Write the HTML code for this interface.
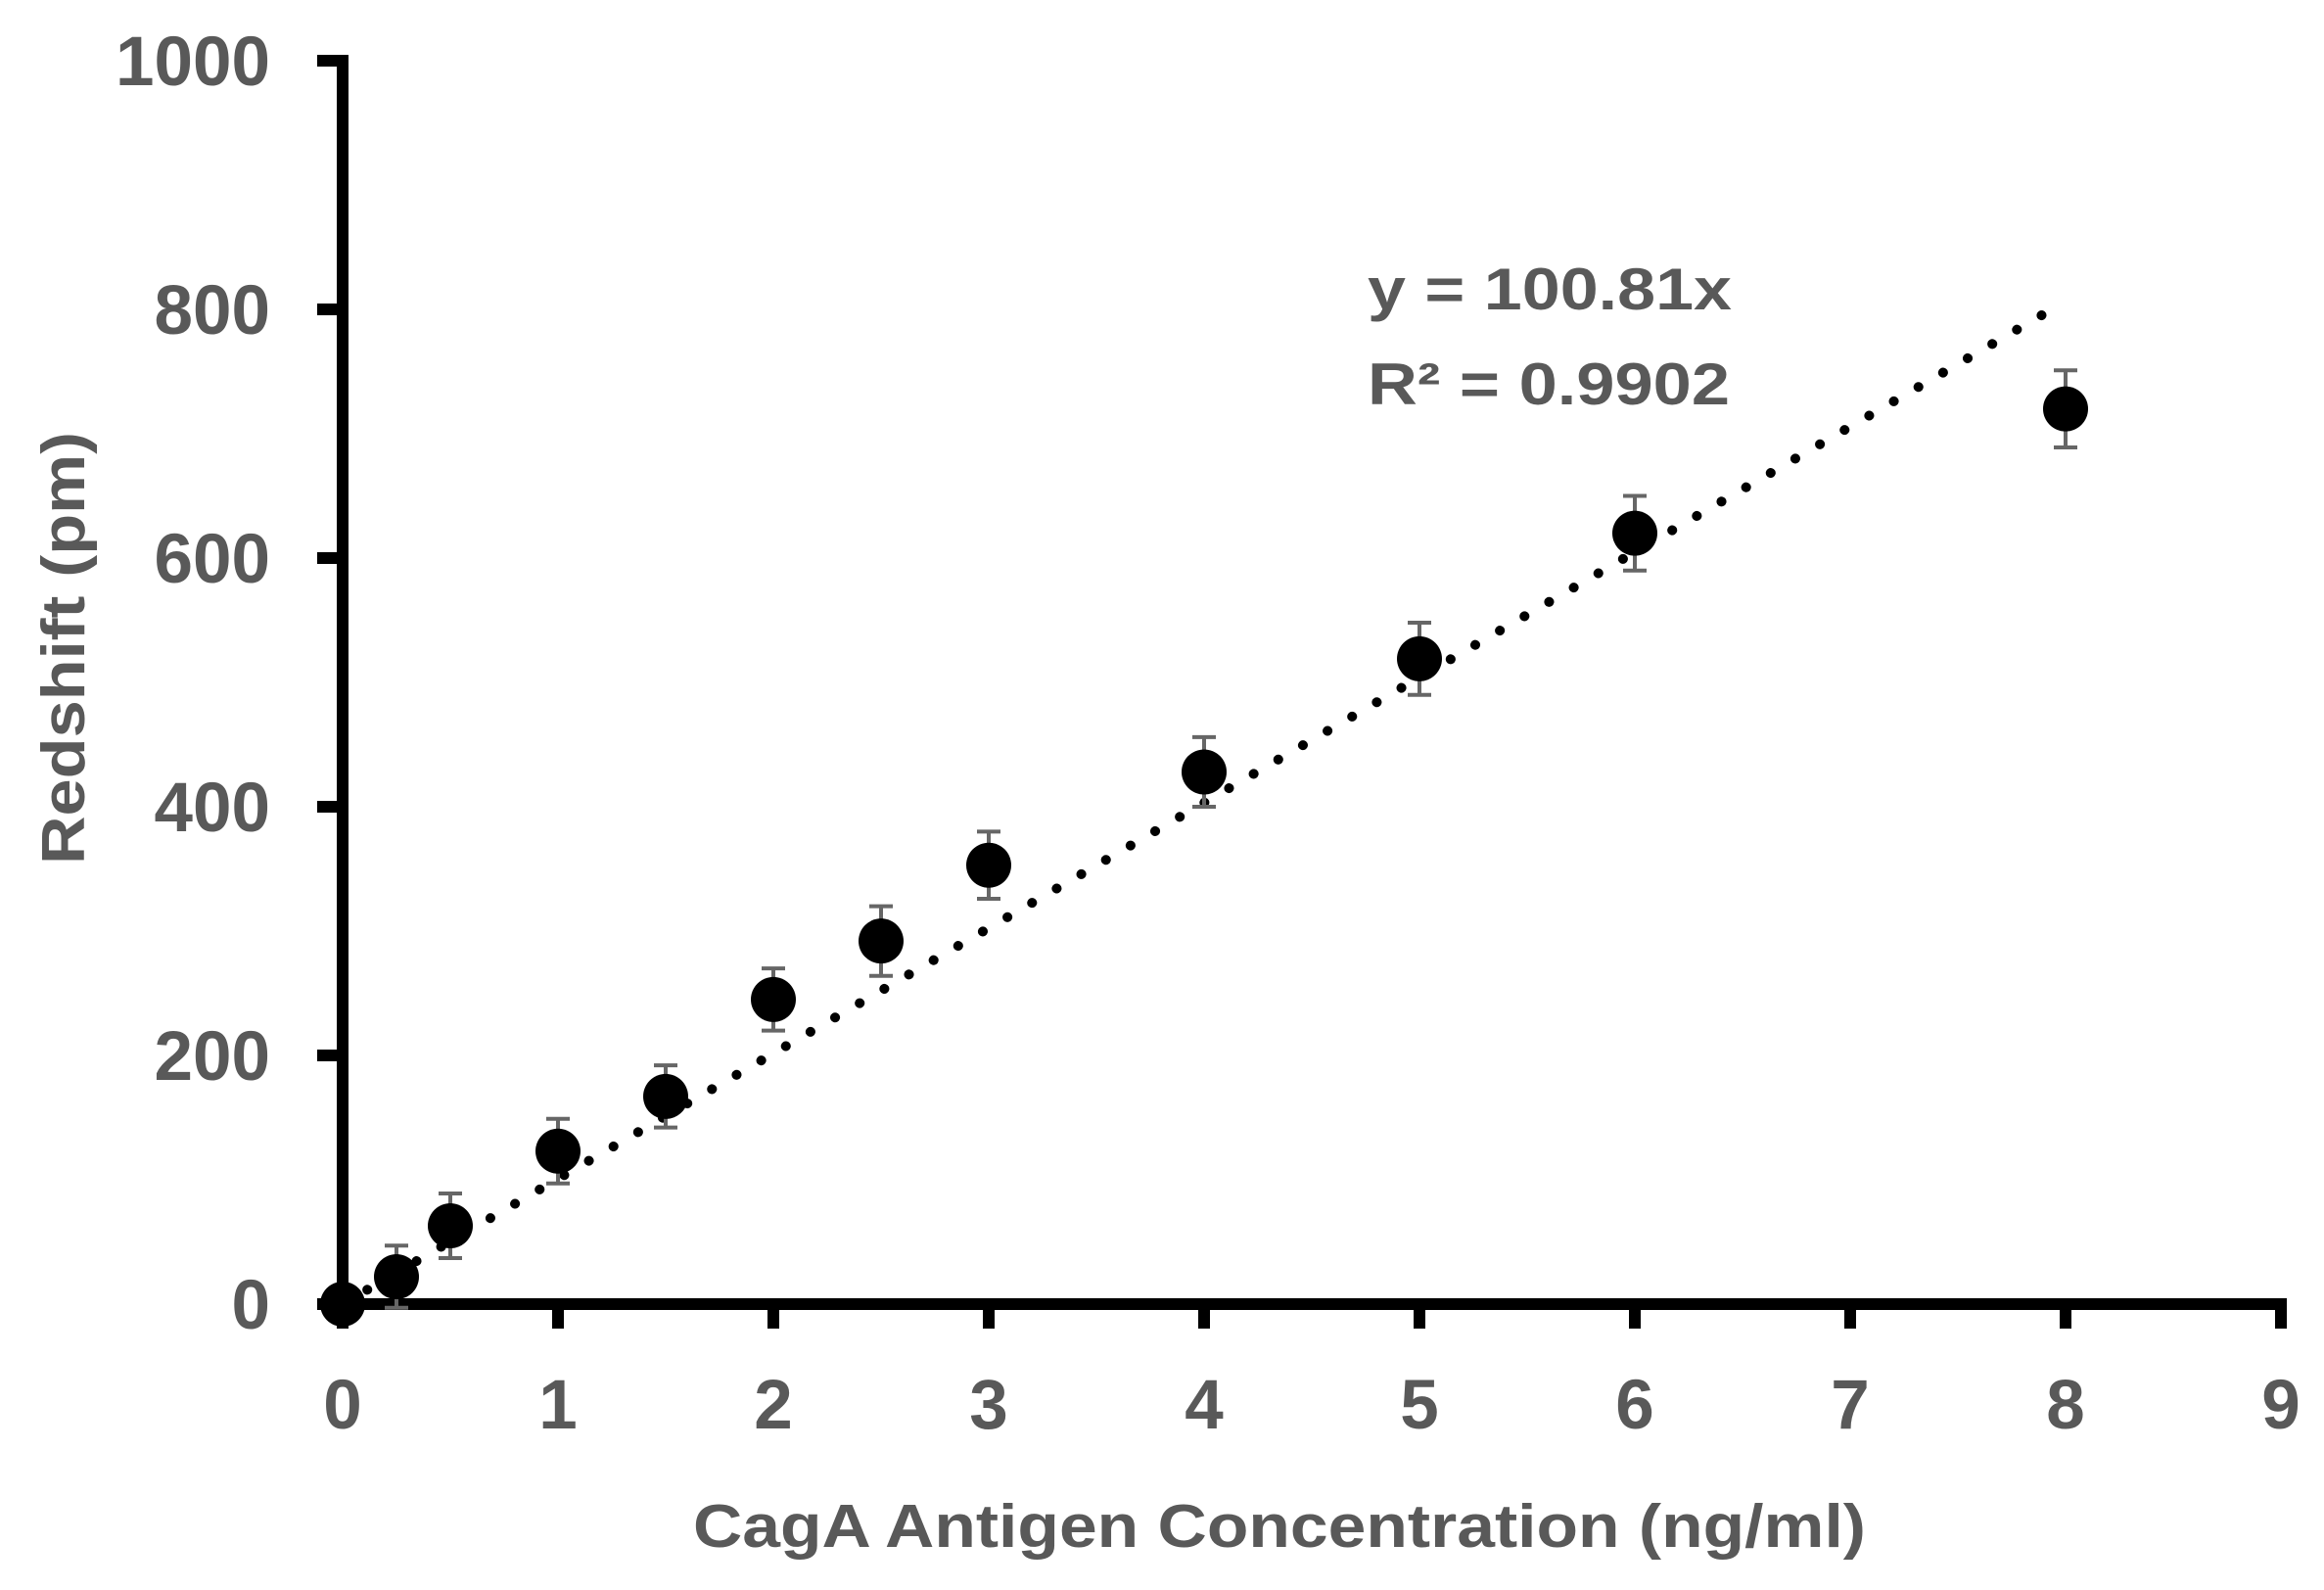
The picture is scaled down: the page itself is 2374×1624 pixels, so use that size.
<!DOCTYPE html>
<html><head><meta charset="utf-8"><style>
html,body{margin:0;padding:0;background:#fff}
svg{display:block}
text{font-family:"Liberation Sans",sans-serif;font-weight:bold;fill:#595959}
</style></head><body>
<svg id="chart" width="2374" height="1624" viewBox="0 0 2374 1624">
<g id="axes"></g>
<g id="trend"></g>
<g id="points"></g>
<text x="1583" y="316" font-size="60" textLength="372" lengthAdjust="spacingAndGlyphs" text-anchor="middle">y = 100.81x</text>
<text x="1582" y="413" font-size="60" textLength="370" lengthAdjust="spacingAndGlyphs" text-anchor="middle">R² = 0.9902</text>
<text x="1307" y="1580" font-size="62" textLength="1198" lengthAdjust="spacingAndGlyphs" text-anchor="middle">CagA Antigen Concentration (ng/ml)</text>
<text transform="translate(86,662) rotate(-90)" font-size="62" textLength="442" lengthAdjust="spacingAndGlyphs" text-anchor="middle">Redshift (pm)</text>
</svg>
<script>
const xValues=[0,0.25,0.5,1,1.5,2,2.5,3,4,5,6,8];
const yValues=[0,22,63,123,167,245,292,353,428,519,620,720];
const yErrors=[0,25,26,26,25,25,28,27,28,29,30,31];
const xTicks=[0,1,2,3,4,5,6,7,8,9];
const yTicks=[0,200,400,600,800,1000];
const slope=100.81;
const trendEnd=7.9;

const NS="http://www.w3.org/2000/svg";
const X0=350,X1=2330,XMAX=9,Y0=1332,Y1=62,YMAX=1000;
const sx=v=>X0+(X1-X0)*v/XMAX;
const sy=v=>Y0-(Y0-Y1)*v/YMAX;
function mk(tag,attrs,parent){const e=document.createElementNS(NS,tag);for(const k in attrs)e.setAttribute(k,attrs[k]);parent.appendChild(e);return e;}
const axes=document.getElementById('axes');
let l=mk('line',{x1:X0,y1:sy(YMAX)-6,x2:X0,y2:Y0+6,stroke:'#000','stroke-width':12},axes);


l=mk('line',{x1:X0-6,y1:Y0,x2:sx(XMAX)+6,y2:Y0,stroke:'#000','stroke-width':12},axes);


yTicks.forEach(v=>{
  const t=mk('line',{x1:X0-26,y1:sy(v),x2:X0,y2:sy(v),stroke:'#000','stroke-width':12},axes);
  
  
  const tx=mk('text',{x:276,y:sy(v)+25,'font-size':71,'text-anchor':'end'},axes);
  tx.textContent=v;
  
  
});
xTicks.forEach(v=>{
  const t=mk('line',{x1:sx(v),y1:Y0,x2:sx(v),y2:Y0+25,stroke:'#000','stroke-width':12},axes);
  
  
  const tx=mk('text',{x:sx(v),y:1459,'font-size':71,'text-anchor':'middle'},axes);
  tx.textContent=v;
  
  
});
const trend=document.getElementById('trend');
const tl=mk('line',{x1:sx(0),y1:sy(0),x2:sx(trendEnd),y2:sy(slope*trendEnd),stroke:'#000','stroke-width':10,'stroke-linecap':'round','stroke-dasharray':'0.1 29'},trend);


const pts=document.getElementById('points');
xValues.forEach((x,i)=>{
  const cx=sx(x),y=yValues[i],e=yErrors[i];
  const g=mk('g',{},pts);
  
  
  if(e>0){
    const eb=mk('path',{d:`M${cx},${sy(y-e)}V${sy(y+e)}M${cx-12},${sy(y+e)}H${cx+12}M${cx-12},${sy(y-e)}H${cx+12}`,stroke:'#666','stroke-width':4,fill:'none'},g);
    
    
  }
  const c=mk('circle',{cx:cx,cy:sy(y),r:23,fill:'#000'},g);
  
  
});
</script>
</body></html>
